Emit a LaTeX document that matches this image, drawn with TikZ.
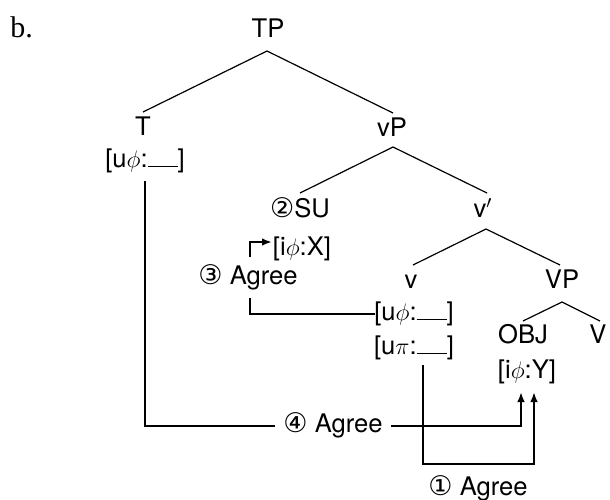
\documentclass[tikz,border=0pt]{standalone}
\usepackage{fontspec}
\setmainfont{TeX Gyre Heros}
\newfontfamily\serifb{Liberation Serif}
\newfontfamily\circfont{DejaVu Sans}
\usetikzlibrary{calc,arrows.meta}
\newcommand\gapline{\rule[-0.2pt]{15pt}{0.5pt}}
\newcommand\cnum[1]{{\fontsize{13.5pt}{15pt}\circfont #1}}
\begin{document}
\begin{tikzpicture}[x=0.5pt,y=-0.5pt,
  font=\fontsize{12.8pt}{15pt}\selectfont,
  lbl/.style={inner sep=0pt,anchor=base},
  tree/.style={line width=0.6pt},
  conn/.style={line width=1pt},
  arr/.style={-{Latex[length=5pt,width=3.8pt]}}]
\useasboundingbox (0,0) rectangle (610,499);

% labels
\node[lbl,anchor=base west,font=\fontsize{15pt}{17pt}\serifb] (b) at (10,37) {b.};
\node[lbl] (TP) at (268,37) {TP};
\node[lbl] (T) at (143,135) {T};
\node[lbl] (Tf) at (145,167) {[u$\phi$:\gapline]};
\node[lbl] (vP) at (392,136) {vP};
\node[lbl] (SU) at (300,217) {\cnum{②}SU};
\node[lbl] (Xf) at (302,255) {[i$\phi$:X]};
\node[lbl] (vbar) at (483,217) {v$'$};
\node[lbl] (ag3) at (248,284) {\cnum{③} Agree};
\node[lbl] (v) at (411,288) {v};
\node[lbl] (VP) at (562,288) {VP};
\node[lbl] (vf) at (414,320) {[u$\phi$:\gapline]};
\node[lbl] (pf) at (414,354) {[u$\pi$:\gapline]};
\node[lbl] (OBJ) at (523,343) {OBJ};
\node[lbl] (V) at (598,343) {V};
\node[lbl] (Yf) at (527,378) {[i$\phi$:Y]};
\node[inner xsep=4pt,inner ysep=0pt,text height=9.2pt,text depth=2.7pt] (ag4) at (333,426) {\cnum{④} Agree};
\node[lbl] (ag1) at (478,495) {\cnum{①} Agree};

% tree branches
\draw[tree] ($(TP.base)+(-1,14)$) -- ($(T.base)+(0,-23)$);
\draw[tree] ($(TP.base)+(-1,14)$) -- ($(vP.base)+(1,-23)$);
\draw[tree] ($(vP.base)+(1,11)$) -- ($(SU.base)+(0,-24)$);
\draw[tree] ($(vP.base)+(1,11)$) -- ($(vbar.base)+(4,-24)$);
\draw[tree] ($(vbar.base)+(3,12)$) -- ($(v.base)+(2,-23)$);
\draw[tree] ($(vbar.base)+(3,12)$) -- ($(VP.base)+(-2,-23)$);
\draw[tree] ($(VP.base)+(0,14)$) -- ($(OBJ.base)+(0,-22)$);
\draw[tree] ($(VP.base)+(0,14)$) -- ($(V.base)+(2,-22)$);

% agree connectors
\draw[conn,arr] ($(ag3.base)+(2,-27)$) |- ($(Xf.base)+(-30,-13)$);
\draw[conn] ($(ag3.base)+(2,14)$) |- ($(vf.base)+(-39,-6)$);
\draw[conn] ($(Tf.base)+(0,14)$) |- (ag4.west);
\draw[conn,arr] (ag4.east) -| ($(Yf.base)+(-6,14)$);
\draw[conn,arr] ($(pf.base)+(9,11)$) |- ($(Yf.base)+(7,86)$) -- ($(Yf.base)+(7,14)$);
\end{tikzpicture}
\end{document}
